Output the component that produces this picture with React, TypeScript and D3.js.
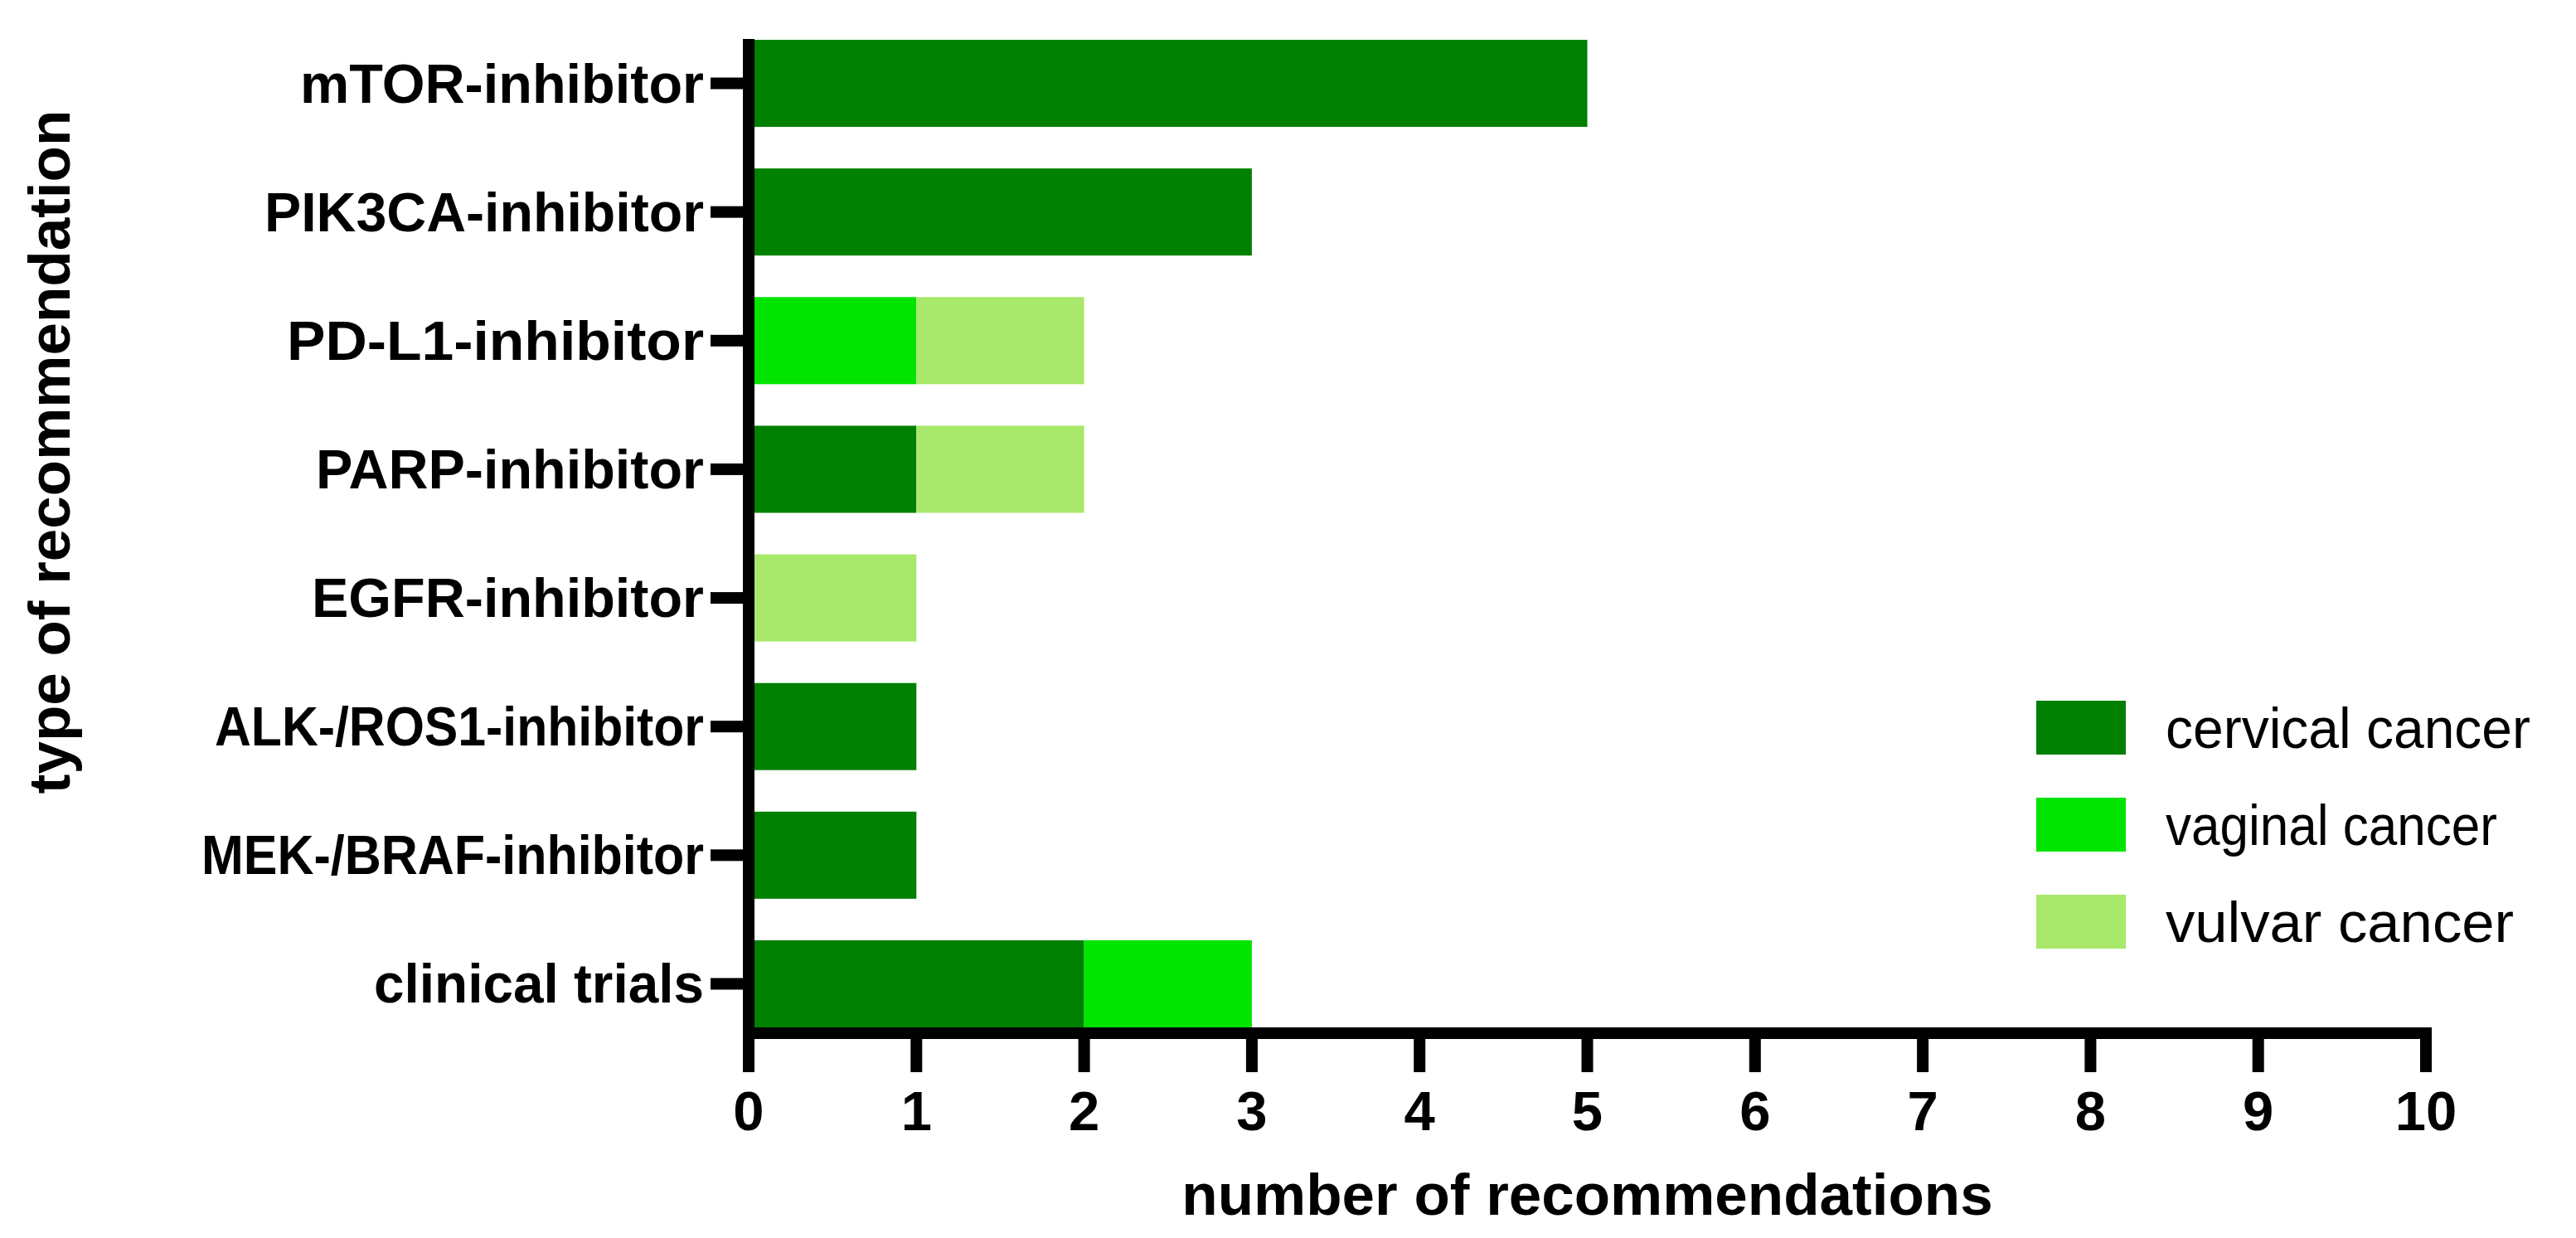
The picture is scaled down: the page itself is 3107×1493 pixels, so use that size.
import React from "react";
import * as d3 from "d3";

const categories = [
  "mTOR-inhibitor",
  "PIK3CA-inhibitor",
  "PD-L1-inhibitor",
  "PARP-inhibitor",
  "EGFR-inhibitor",
  "ALK-/ROS1-inhibitor",
  "MEK-/BRAF-inhibitor",
  "clinical trials",
];
const seriesNames = ["cervical cancer", "vaginal cancer", "vulvar cancer"];
const cervical = [5, 3, 0, 1, 0, 1, 1, 2];
const vaginal = [0, 0, 1, 0, 0, 0, 0, 1];
const vulvar = [0, 0, 1, 1, 1, 0, 0, 0];
const xTicks = [0, 1, 2, 3, 4, 5, 6, 7, 8, 9, 10];
const colors = ["#008000", "#00E400", "#A8E86A"];
const xTitle = "number of recommendations";
const yTitle = "type of recommendation";

// rendered widths of the category labels (layout only)
const labelWidths = [487, 530, 503, 468, 473, 590, 606, 398];
const legendWidths = [440, 400, 420];

const W = 3107;
const H = 1493;
const FONT = "'Liberation Sans', Arial, Helvetica, sans-serif";

export default function App() {
  const x = d3.scaleLinear().domain([0, 10]).range([903, 2926]);
  const y = d3
    .scaleBand<string>()
    .domain(categories)
    .range([48, 1239])
    .paddingInner(0.323)
    .paddingOuter(0);

  const rows = categories.map((c, i) => ({
    cat: c,
    cervical: cervical[i],
    vaginal: vaginal[i],
    vulvar: vulvar[i],
  }));
  const keys = ["cervical", "vaginal", "vulvar"];
  const stacked = d3.stack<any>().keys(keys)(rows);

  const axisLeft = 896;
  const axisRight = 910;
  const axisTop = 47;
  const axisY0 = 1239;
  const axisY1 = 1253;

  return (
    <svg
      width={W}
      height={H}
      style={{ position: "absolute", left: 0, top: 0, display: "block", background: "#fff" }}
    >
      <rect x={0} y={0} width={W} height={H} fill="#fff" />
      {stacked.map((s, si) => (
        <g key={si} fill={colors[si]}>
          {s.map((d, i) =>
            d[1] - d[0] > 0 ? (
              <rect
                key={i}
                x={x(d[0])}
                y={y(categories[i])}
                width={x(d[1]) - x(d[0])}
                height={y.bandwidth()}
              />
            ) : null
          )}
        </g>
      ))}
      {/* y axis */}
      <rect x={axisLeft} y={axisTop} width={axisRight - axisLeft} height={axisY1 - axisTop} fill="#000" />
      {categories.map((c, i) => {
        const cy = (y(c) as number) + y.bandwidth() / 2;
        return (
          <g key={c}>
            <rect x={857} y={cy - 7} width={axisLeft - 857} height={14} fill="#000" />
            <text
              x={849}
              y={cy + 23}
              textAnchor="end"
              fontFamily={FONT}
              fontWeight="bold"
              fontSize={66}
              fill="#000"
              textLength={labelWidths[i]}
              lengthAdjust="spacingAndGlyphs"
            >
              {c}
            </text>
          </g>
        );
      })}
      {/* x axis */}
      <rect x={axisLeft} y={axisY0} width={2933 - axisLeft} height={axisY1 - axisY0} fill="#000" />
      {xTicks.map((t) => (
        <g key={t}>
          <rect x={x(t) - 7} y={axisY1} width={14} height={40} fill="#000" />
          <text
            x={x(t)}
            y={1363}
            textAnchor="middle"
            fontFamily={FONT}
            fontWeight="bold"
            fontSize={67}
            fill="#000"
          >
            {t}
          </text>
        </g>
      ))}
      <text
        x={(x(0) + x(10)) / 2}
        y={1465}
        textAnchor="middle"
        fontFamily={FONT}
        fontWeight="bold"
        fontSize={71}
        fill="#000"
      >
        {xTitle}
      </text>
      <text
        transform={`translate(84, 545) rotate(-90)`}
        textAnchor="middle"
        fontFamily={FONT}
        fontWeight="bold"
        fontSize={71}
        fill="#000"
      >
        {yTitle}
      </text>
      {/* legend */}
      {seriesNames.map((n, i) => {
        const top = 845 + i * 117;
        return (
          <g key={n}>
            <rect x={2456} y={top} width={108} height={65} fill={colors[i]} />
            <text
              x={2612}
              y={top + 57}
              fontFamily={FONT}
              fontSize={68}
              fill="#000"
              textLength={legendWidths[i]}
              lengthAdjust="spacingAndGlyphs"
            >
              {n}
            </text>
          </g>
        );
      })}
    </svg>
  );
}
